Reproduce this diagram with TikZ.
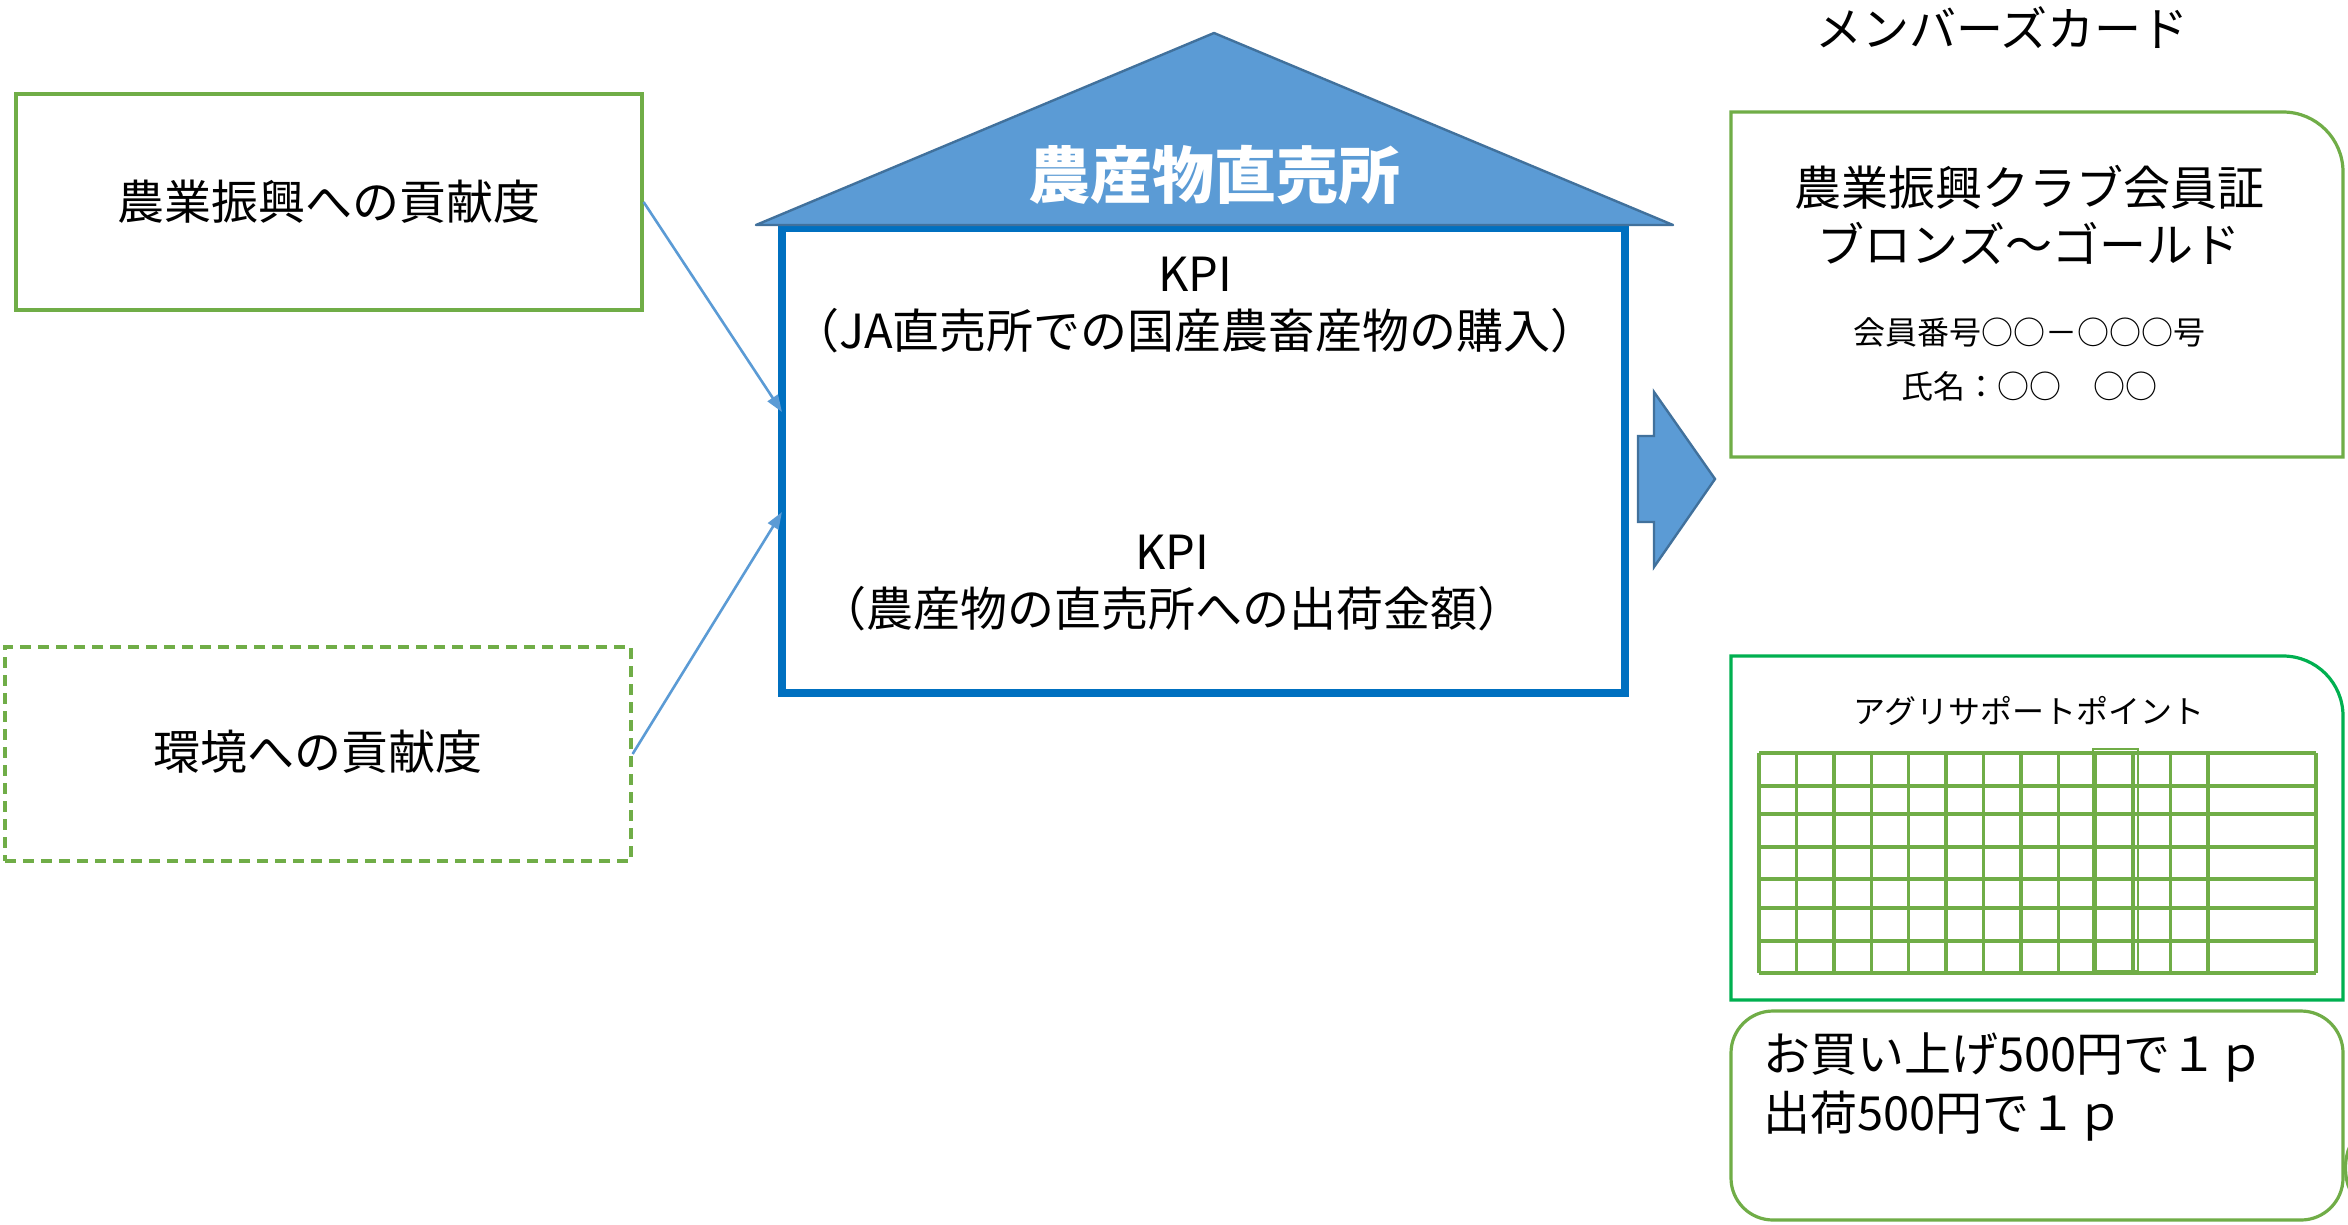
\documentclass[tikz,border=0pt]{standalone}
\usepackage{fontspec}
\setmainfont{Noto Sans CJK JP}
\usetikzlibrary{arrows.meta}
\definecolor{lgreen}{HTML}{70AD47}
\definecolor{dgreen}{HTML}{00B050}
\definecolor{lblue}{HTML}{5B9BD5}
\definecolor{sblue}{HTML}{41719C}
\definecolor{mblue}{HTML}{0070C0}
\begin{document}
\begin{tikzpicture}[x=1pt,y=-1pt,
  big/.style={font=\fontsize{47}{57}\selectfont},
  small/.style={font=\fontsize{32}{40}\selectfont},
  gbox/.style={draw=lgreen,line width=3.2pt},
  link/.style={draw=lblue,line width=2.6pt,-{Triangle[length=17pt,width=12pt]}},
  gridline/.style={draw=lgreen,line width=3.4pt}]
\useasboundingbox (0,0) rectangle (2348,1224);
\fill[white] (0,0) rectangle (2348,1224);

% left boxes
\node[gbox,minimum width=626pt,minimum height=216pt,big] (agri) at (329,202) {農業振興への貢献度};
\node[gbox,dashed,dash pattern=on 11pt off 7pt,minimum width=626pt,minimum height=214pt,big] (env) at (318,754) {};
\node[big] (envtxt) at (318,752) {環境への貢献度};

% main box
\node[draw=mblue,line width=8pt,minimum width=843pt,minimum height=465pt] (main) at (1203.5,460.5) {};
\coordinate (in1) at (782,412);
\coordinate (in2) at (782,512);
\draw[link] (agri.east) -- (in1);
\draw[link] (env.east) -- (in2);

% roof
\draw[fill=lblue,draw=sblue,line width=2.4pt,line join=round] (756,225) -- (1214,33) -- (1673,225) -- cycle;
\node[text=white,font=\fontsize{62}{70}\selectfont\bfseries] (title) at (1214,175) {農産物直売所};

\node[big,align=center] (kpi1) at (1195,305) {KPI\\（JA直売所での国産農畜産物の購入）};
\node[big,align=center] (kpi2) at (1172,583) {KPI\\（農産物の直売所への出荷金額）};

% block arrow
\draw[fill=lblue,draw=sblue,line width=2.4pt] (1638,436) -- (1654,436) -- (1654,392) -- (1715,479) -- (1654,567) -- (1654,522) -- (1638,522) -- cycle;

% member card
\node[big] (mc) at (2002,28) {メンバーズカード};
\draw[gbox] (1731,457) -- (1731,112) -- (2283,112) arc[start angle=270,end angle=360,radius=60] -- (2343,457) -- cycle;
\node[big] (c1) at (2029,187) {農業振興クラブ会員証};
\node[big] (c2) at (2029,243) {ブロンズ～ゴールド};
\node[small] (c3) at (2029,332) {会員番号○○－○○○号};
\node[small] (c4) at (2029,386) {氏名：○○　○○};

% point card
\draw[draw=dgreen,line width=3.2pt] (1731,1000) -- (1731,656) -- (2283,656) arc[start angle=270,end angle=360,radius=60] -- (2343,1000) -- cycle;
\node[small] (pt) at (2029,711) {アグリサポートポイント};
\foreach \y in {753,786,814,847,879,908,941,973}
  \draw[gridline] (1759,\y) -- (2316,\y);
\foreach \k in {0,...,12}
  \draw[gridline] (1759+37.4*\k,753) -- (1759+37.4*\k,973);
\draw[gridline] (2316,753) -- (2316,973);
\draw[draw=lgreen,line width=2.4pt] (2093,749) rectangle (2138,971);

% rule card
\draw[gbox,rounded corners=42pt] (1731,1011) rectangle (2343,1220);
\node[big,anchor=west] (r1) at (1760,1057) {お買い上げ500円で１ｐ};
\node[big,anchor=west] (r2) at (1760,1116) {出荷500円で１ｐ};
\draw[gbox] (2350,1146) .. controls (2344,1158) and (2344,1178) .. (2350,1190);
\end{tikzpicture}
\end{document}
